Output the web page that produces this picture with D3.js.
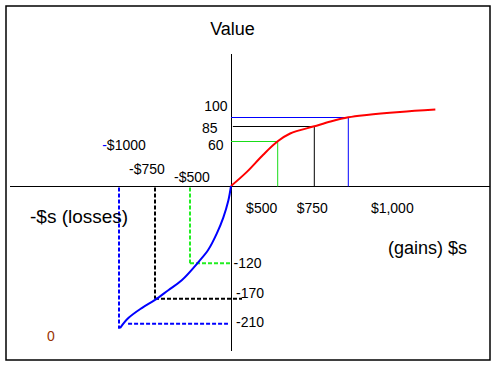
<!DOCTYPE html>
<html>
<head>
<meta charset="utf-8">
<script src="https://cdn.jsdelivr.net/npm/d3@7"></script>
<style>
  body { margin: 0; background: #fff; }
  text { font-family: Arial, "Liberation Sans", sans-serif; }
</style>
</head>
<body>
<div id="chart"></div>
<script>
// value function: gains (red, concave) and losses (blue, steeper)
var gainX = [0, 170, 345, 500, 585, 750, 870, 1000, 1135, 1380, 1640];
var gainY = [0, 19, 42, 60, 73, 85, 93, 100, 104, 109, 113];

var lossX = [-993, -935, -842, -750, -655, -559, -390, -277, -174, -94, -33, 0];
var lossY = [-217, -201, -185, -172, -158, -144, -117, -99, -74, -49, -23, 0];

// reference amounts and their values
var gainAmounts = [500, 750, 1000];
var gainValues = [60, 85, 100];
var lossAmounts = [-500, -750, -1000];
var lossValues = [-120, -170, -210];

// tick labels
var gainLabels = ["$500", "$750", "$1,000"];
var lossLabels = ["-$500", "-$750", "-$1000"];
var gainValueLabels = ["60", "85", "100"];
var lossValueLabels = ["-120", "-170", "-210"];

var svgWidth = 496;
var svgHeight = 365;

var svg = d3.select("#chart")
    .append("svg")
    .attr("width", svgWidth)
    .attr("height", svgHeight);

// the drawing is not to scale, so the scales are piecewise
var xScale = d3.scaleLinear()
    .domain([-1000, -750, -500, 0, 500, 750, 1000])
    .range([119, 155, 190, 231, 277.7, 314.3, 348.3]);

var yScale = d3.scaleLinear()
    .domain([-210, -170, -120, 0, 60, 85, 100])
    .range([323.7, 298.7, 263.3, 186, 141.3, 126.3, 117.3]);

var x0 = Math.round(xScale(0)) + 0.5;
var y0 = Math.round(yScale(0)) + 0.5;

// frame
svg.append("rect")
    .attr("x", 6).attr("y", 6)
    .attr("width", 484).attr("height", 354)
    .attr("fill", "none")
    .attr("stroke", "#000")
    .attr("stroke-width", 1.5);

// axes
svg.append("line")
    .attr("x1", 10).attr("x2", 490)
    .attr("y1", y0).attr("y2", y0)
    .attr("stroke", "#000");

svg.append("line")
    .attr("x1", x0).attr("x2", x0)
    .attr("y1", 54).attr("y2", 351)
    .attr("stroke", "#000");

// gain guide lines (solid)
var gainColors = ["#19dd19", "#000000", "#0000ff"];
var gainStart = [0, 20, 0];

gainAmounts.forEach(function(a, i) {
    svg.append("line")
        .attr("x1", xScale(a)).attr("x2", xScale(a))
        .attr("y1", y0).attr("y2", yScale(gainValues[i]))
        .attr("stroke", gainColors[i]);
    svg.append("line")
        .attr("x1", xScale(gainStart[i])).attr("x2", xScale(a))
        .attr("y1", Math.round(yScale(gainValues[i])) + 0.5)
        .attr("y2", Math.round(yScale(gainValues[i])) + 0.5)
        .attr("stroke", gainColors[i]);
});

// loss guide lines (dashed)
var lossColors = ["#22ee22", "#000000", "#0000ff"];
var lossVEnd = [-120, -170, -218];
var lossHFrom = [-500, -750, -937];
var lossHTo = [0, 118, -37];

lossAmounts.forEach(function(a, i) {
    svg.append("line")
        .attr("x1", xScale(a)).attr("x2", xScale(a))
        .attr("y1", y0 + 1).attr("y2", yScale(lossVEnd[i]))
        .attr("stroke", lossColors[i])
        .attr("stroke-width", 2)
        .attr("stroke-dasharray", "4,2");
    svg.append("line")
        .attr("x1", xScale(lossHFrom[i])).attr("x2", xScale(lossHTo[i]))
        .attr("y1", yScale(lossValues[i])).attr("y2", yScale(lossValues[i]))
        .attr("stroke", lossColors[i])
        .attr("stroke-width", 2)
        .attr("stroke-dasharray", "4,2");
});

// curves
var line = d3.line()
    .x(function(d) { return xScale(d[0]); })
    .y(function(d) { return yScale(d[1]); })
    .curve(d3.curveCatmullRom.alpha(0.5));

svg.append("path")
    .datum(d3.zip(gainX, gainY))
    .attr("d", line)
    .attr("fill", "none")
    .attr("stroke", "#ff0000")
    .attr("stroke-width", 2);

svg.append("path")
    .datum(d3.zip(lossX, lossY))
    .attr("d", line)
    .attr("fill", "none")
    .attr("stroke", "#0000ff")
    .attr("stroke-width", 2);

// tick labels, hand placed around their amounts
var gainLabelDx = [-16, -2, 44];
svg.selectAll(".gainLabel")
    .data(gainLabels)
    .enter()
    .append("text")
    .attr("x", function(d, i) { return xScale(gainAmounts[i]) + gainLabelDx[i]; })
    .attr("y", y0 + 26)
    .attr("text-anchor", "middle")
    .attr("font-size", 14)
    .text(function(d) { return d; });

var lossLabelDx = [2, -8, 5];
var lossLabelDy = [-5, -13, -36.5];
svg.selectAll(".lossLabel")
    .data(lossLabels)
    .enter()
    .append("text")
    .attr("x", function(d, i) { return xScale(lossAmounts[i]) + lossLabelDx[i]; })
    .attr("y", function(d, i) { return y0 + lossLabelDy[i]; })
    .attr("text-anchor", "middle")
    .attr("font-size", 14)
    .each(function(d) {
        // the minus of -$1000 is blue in the reference
        var t = d3.select(this);
        if (d === "-$1000") {
            t.append("tspan").attr("fill", "#0000ff").text("-");
            t.append("tspan").text(d.slice(1));
        } else {
            t.text(d);
        }
    });

var gainValueRight = [223.5, 217.5, 227.5];
var gainValueDy = [9, 6.5, -6];
svg.selectAll(".gainValue")
    .data(gainValueLabels)
    .enter()
    .append("text")
    .attr("x", function(d, i) { return gainValueRight[i]; })
    .attr("y", function(d, i) { return yScale(gainValues[i]) + gainValueDy[i]; })
    .attr("text-anchor", "end")
    .attr("font-size", 14)
    .text(function(d) { return d; });

var lossValueDx = [2, 4.5, 4.5];
var lossValueDy = [4.5, -1, 3];
svg.selectAll(".lossValue")
    .data(lossValueLabels)
    .enter()
    .append("text")
    .attr("x", function(d, i) { return x0 + lossValueDx[i]; })
    .attr("y", function(d, i) { return yScale(lossValues[i]) + lossValueDy[i]; })
    .attr("font-size", 14)
    .text(function(d) { return d; });

// titles
svg.append("text")
    .attr("x", x0 + 1).attr("y", 35)
    .attr("text-anchor", "middle")
    .attr("font-size", 18)
    .text("Value");

svg.append("text")
    .attr("x", 30).attr("y", 223)
    .attr("font-size", 19)
    .text("-$s (losses)");

svg.append("text")
    .attr("x", 467).attr("y", 254)
    .attr("text-anchor", "end")
    .attr("font-size", 18)
    .text("(gains) $s");

svg.append("text")
    .attr("x", 47).attr("y", 341)
    .attr("font-size", 14)
    .attr("fill", "#993300")
    .text("0");
</script>
</body>
</html>
